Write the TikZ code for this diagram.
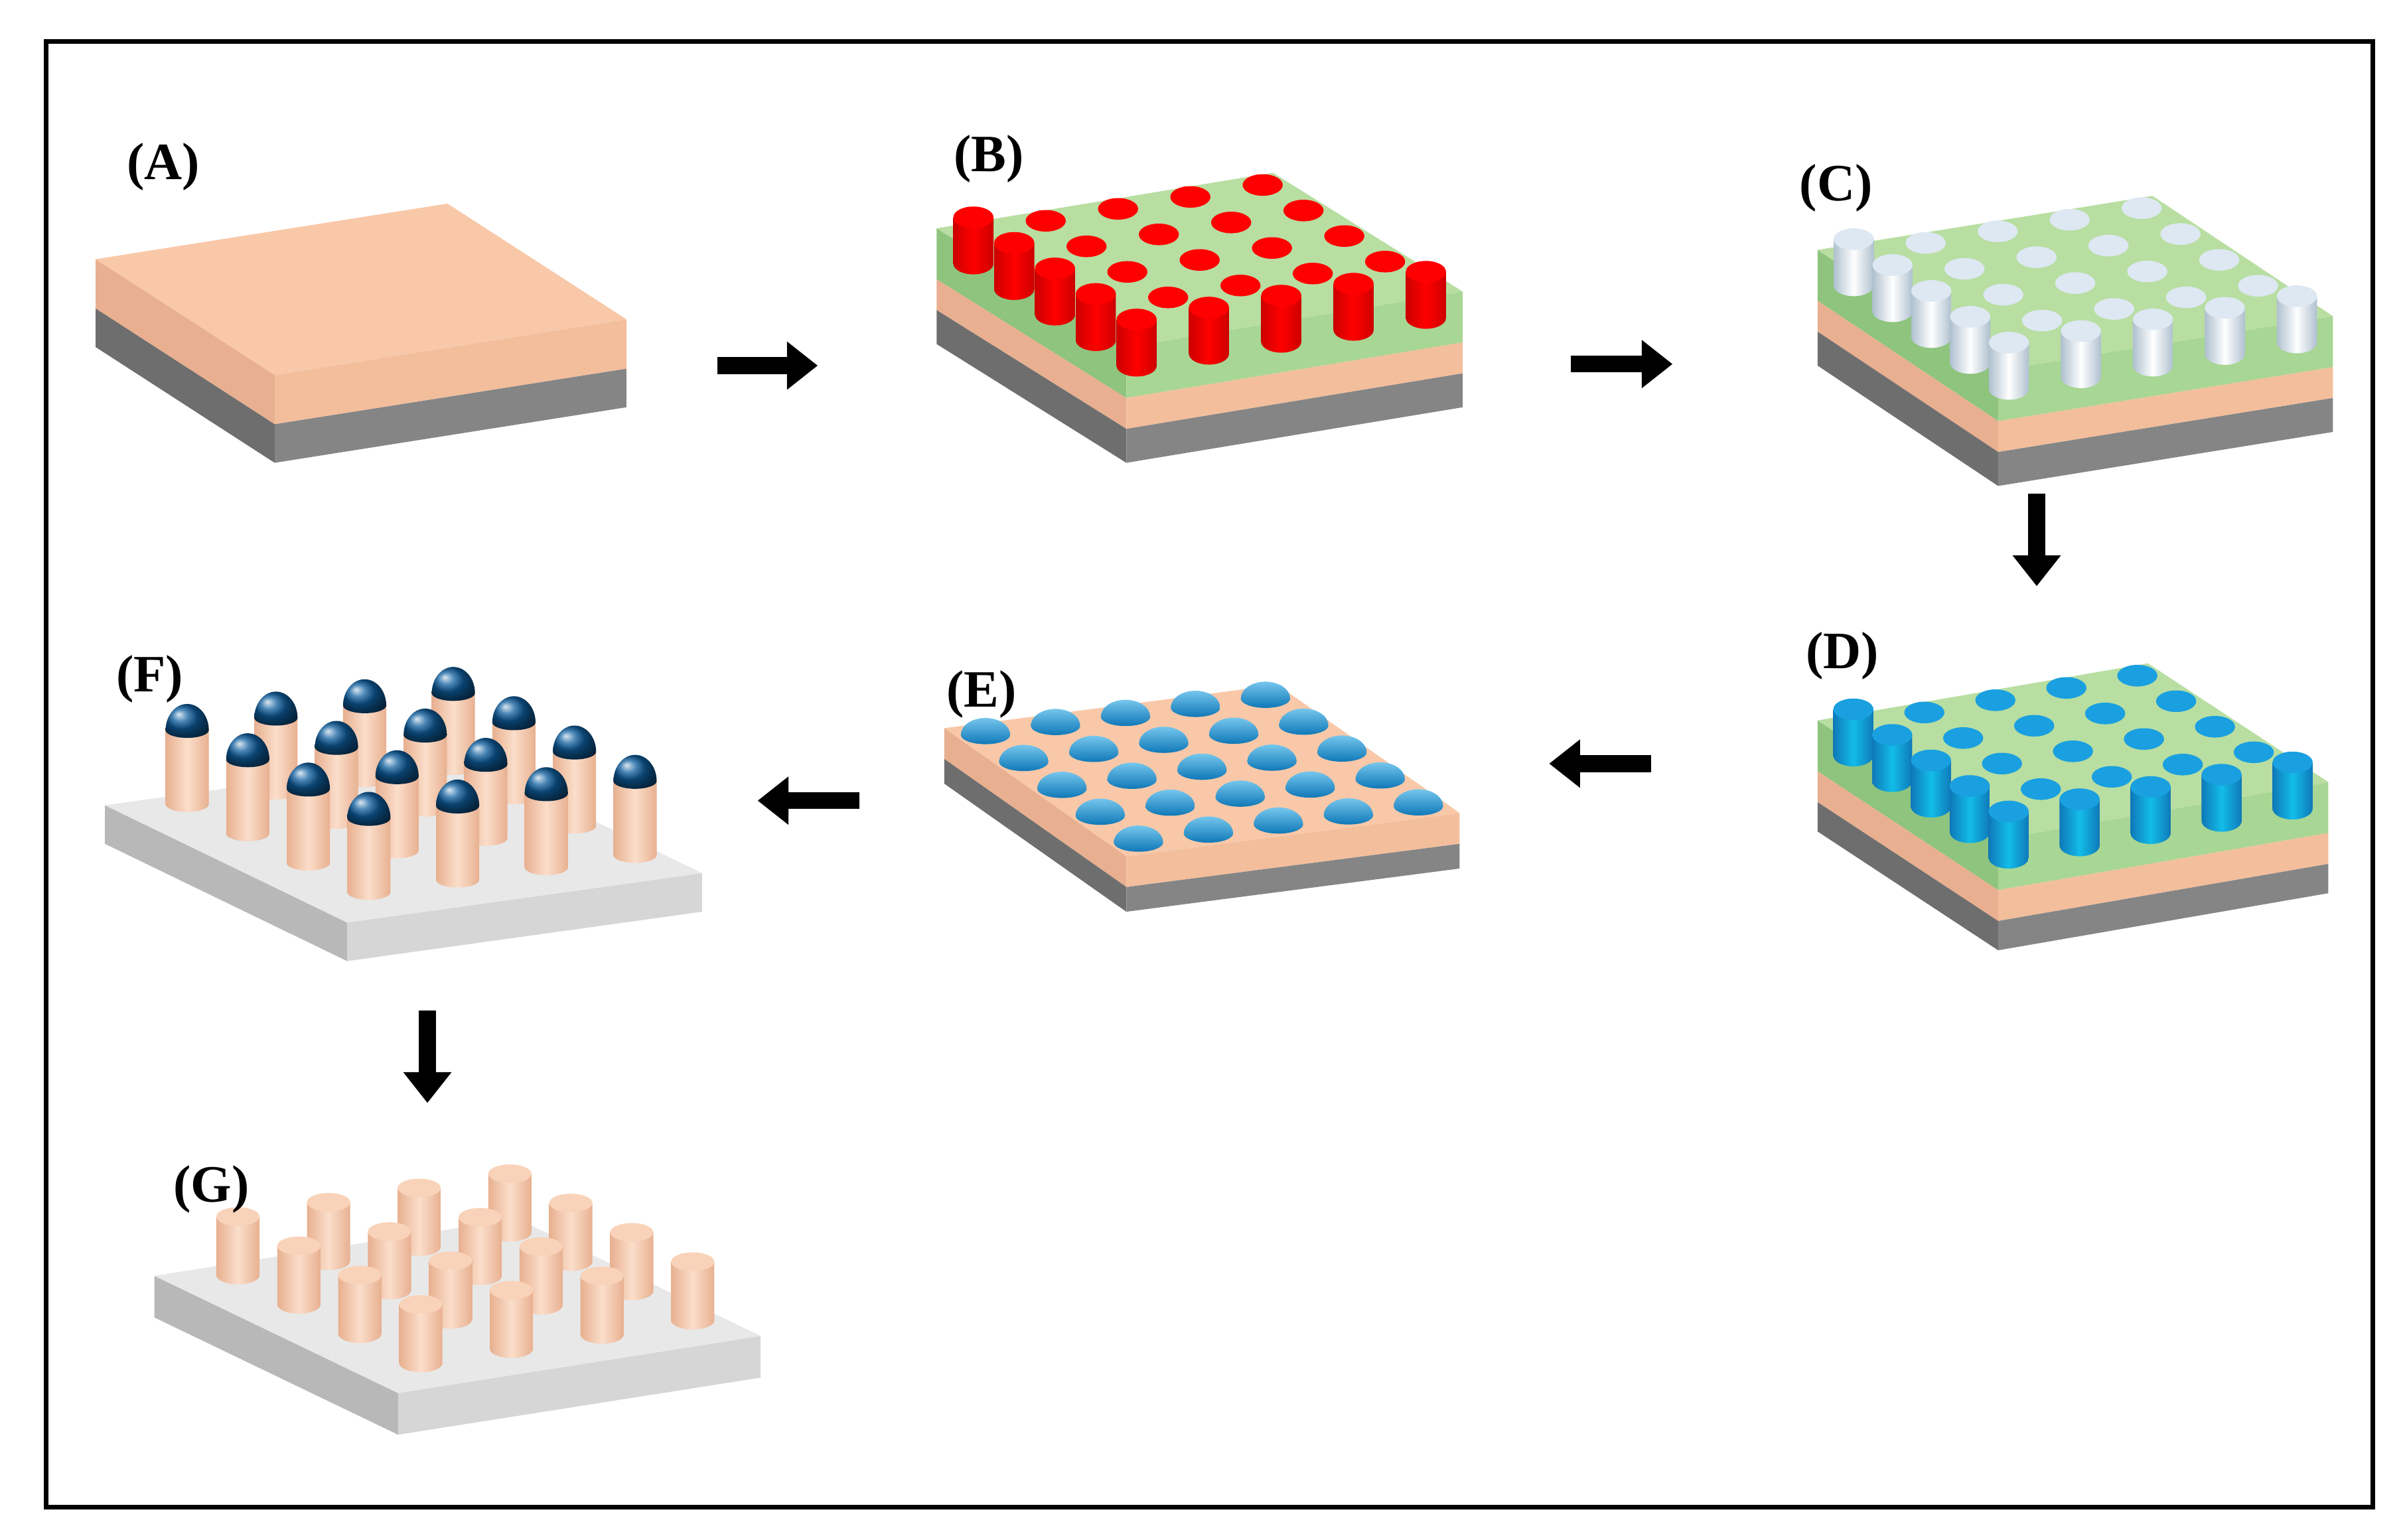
\documentclass[tikz,border=0pt]{standalone}
\usepackage{fontspec}
\setmainfont{Liberation Serif}
\usetikzlibrary{calc,arrows.meta}
\definecolor{peach}{HTML}{F8C8A8}
\definecolor{peachd}{HTML}{E8B090}
\definecolor{peachs}{HTML}{F3BE9C}
\definecolor{grayl}{HTML}{6E6E6E}
\definecolor{grayr}{HTML}{858585}
\definecolor{greent}{HTML}{B8DEA2}
\definecolor{greenl}{HTML}{8EC47E}
\definecolor{greenr}{HTML}{A8D694}
\definecolor{slabt}{HTML}{E8E8E8}
\definecolor{slabl}{HTML}{B8B8B8}
\definecolor{slabr}{HTML}{D6D6D6}
\definecolor{bluep}{HTML}{1AA0E0}
\definecolor{bluepd}{HTML}{0F78B8}
\definecolor{whitep}{HTML}{DDE8F2}
\definecolor{whitepd}{HTML}{AFC0CF}
\definecolor{darkblue}{HTML}{0E5E9E}
\tikzset{bigarrow/.style={-{Triangle[length=20pt,width=30pt]},line width=11pt,black},
 lbl/.style={font=\bfseries\fontsize{34}{34}\selectfont,inner sep=0pt}}
\newcommand\boxgeom[3]{\coordinate (L) at #1; \coordinate (K) at #2; \coordinate (F) at #3;
 \coordinate (u) at ($(K)-(L)$); \coordinate (v) at ($(F)-(L)$); \coordinate (R) at ($(K)+(v)$);}
\newcommand\slablayer[4]{%
 \fill[#3] ($(L)+(0,#1)$) -- ($(F)+(0,#1)$) -- ($(F)+(0,#2)$) -- ($(L)+(0,#2)$) -- cycle;
 \fill[#4] ($(F)+(0,#1)$) -- ($(R)+(0,#1)$) -- ($(R)+(0,#2)$) -- ($(F)+(0,#2)$) -- cycle;}
\newcommand\topface[1]{\fill[#1] (L)--(K)--(R)--(F)--cycle;}
\newcommand\cyl[7]{%
 \shade[left color=#5,right color=#5,middle color=#6] (-#1,#3) -- (-#1,#4) arc[start angle=180,end angle=0,x radius=#1,y radius=#2] -- (#1,#3) -- cycle;
 \fill[#7] (0,#3) ellipse[x radius=#1,y radius=#2];}
\newcommand\poregrid[3]{%
 \foreach \t in {0.07,0.285,0.5,0.715,0.93}{\foreach \s in {0.93,0.715,0.5,0.285,0.07}{%
  \coordinate (p) at ($(L)+\s*(u)+\t*(v)$);
  \begin{scope}[shift={(p)}]
  \pgfmathsetmacro\edge{(\s<0.1 || \t>0.9) ? 1 : 0}
  \ifdim\edge pt>0.5pt
   \cyl{13}{7}{-10}{20}{#2}{#3}{#1}
  \else
   \fill[#1] (0,0) ellipse[x radius=13,y radius=7];
  \fi
  \end{scope}}}}
\begin{document}
\begin{tikzpicture}[x=1pt,y=-1pt]
\useasboundingbox (0,0) rectangle (1560,998);
\fill[white] (0,0) rectangle (1560,998);
\draw[line width=3pt] (30,27) rectangle (1538,977);
% ---------- A
\boxgeom{(62,168)}{(290,132)}{(178,243)}
\slablayer{0}{32}{peachd}{peachs}
\slablayer{32}{57}{grayl}{grayr}
\topface{peach}
\node[lbl] (lA) at (106,108) {(A)};
% ---------- B
\boxgeom{(607,148)}{(825,112)}{(730,225)}
\slablayer{0}{33}{greenl}{greenr}
\slablayer{33}{53}{peachd}{peachs}
\slablayer{53}{75}{grayl}{grayr}
\topface{greent}
\poregrid{red}{red!80!black}{red}
\node[lbl] (lB) at (641,103) {(B)};
% ---------- C
\boxgeom{(1178,162)}{(1395,127)}{(1295,240)}
\slablayer{0}{33}{greenl}{greenr}
\slablayer{33}{53}{peachd}{peachs}
\slablayer{53}{75}{grayl}{grayr}
\topface{greent}
\poregrid{whitep}{whitepd}{white}
\node[lbl] (lC) at (1190,122) {(C)};
% ---------- D
\boxgeom{(1178,467)}{(1392,430)}{(1295,544)}
\slablayer{0}{33}{greenl}{greenr}
\slablayer{33}{53}{peachd}{peachs}
\slablayer{53}{72}{grayl}{grayr}
\topface{greent}
\poregrid{bluep}{bluepd}{bluep!70!cyan}
\node[lbl] (lD) at (1194,425) {(D)};
% ---------- E
\boxgeom{(612,472)}{(828,444)}{(730,555)}
\slablayer{0}{20}{peachd}{peachs}
\slablayer{20}{36}{grayl}{grayr}
\topface{peach}
\foreach \t in {0.08,0.29,0.5,0.71,0.92}{\foreach \s in {0.92,0.71,0.5,0.29,0.08}{%
 \coordinate (p) at ($(L)+\s*(u)+\t*(v)$);
 \begin{scope}[shift={(p)}]
 \shade[top color=bluep!60!white,bottom color=bluepd] (-16,0) arc[start angle=180,end angle=360,x radius=16,y radius=11] arc[start angle=0,end angle=180,x radius=16,y radius=6] -- cycle;
 \end{scope}}}
\node[lbl] (lE) at (636,450) {(E)};
% ---------- F
\boxgeom{(68,522)}{(298,490)}{(225,598)}
\slablayer{0}{25}{slabl}{slabr}
\topface{slabt}
\foreach \t in {0.12,0.37,0.62,0.87}{\foreach \s in {0.9,0.65,0.4,0.15}{%
 \coordinate (p) at ($(L)+\s*(u)+\t*(v)+(0,-5)$);
 \begin{scope}[shift={(p)}]
 \cyl{14}{5}{-48}{0}{peachd}{peach!60!white}{peach}
 \shade[ball color=darkblue] (-14,-48) arc[start angle=180,end angle=360,x radius=14,y radius=17] arc[start angle=0,end angle=180,x radius=14,y radius=5] -- cycle;
 \end{scope}}}
\node[lbl] (lF) at (97,440) {(F)};
% ---------- G
\boxgeom{(100,827)}{(335,790)}{(258,903)}
\slablayer{0}{27}{slabl}{slabr}
\topface{slabt}
\foreach \t in {0.12,0.37,0.62,0.87}{\foreach \s in {0.9,0.65,0.4,0.15}{%
 \coordinate (p) at ($(L)+\s*(u)+\t*(v)+(0,-4)$);
 \begin{scope}[shift={(p)}]
 \cyl{14}{6}{-38}{0}{peachd}{peach!60!white}{peach!80!white}
 \end{scope}}}
\node[lbl] (lG) at (137,771) {(G)};
% ---------- arrows
\coordinate (a1) at (465,237); \coordinate (a2) at (530,237);
\coordinate (b1) at (1018,236); \coordinate (b2) at (1084,236);
\coordinate (c1) at (1320,320); \coordinate (c2) at (1320,380);
\coordinate (d1) at (1070,495); \coordinate (d2) at (1004,495);
\coordinate (e1) at (557,519); \coordinate (e2) at (491,519);
\coordinate (f1) at (277,655); \coordinate (f2) at (277,715);
\draw[bigarrow] (a1) -- (a2);
\draw[bigarrow] (b1) -- (b2);
\draw[bigarrow] (c1) -- (c2);
\draw[bigarrow] (d1) -- (d2);
\draw[bigarrow] (e1) -- (e2);
\draw[bigarrow] (f1) -- (f2);
\end{tikzpicture}
\end{document}
